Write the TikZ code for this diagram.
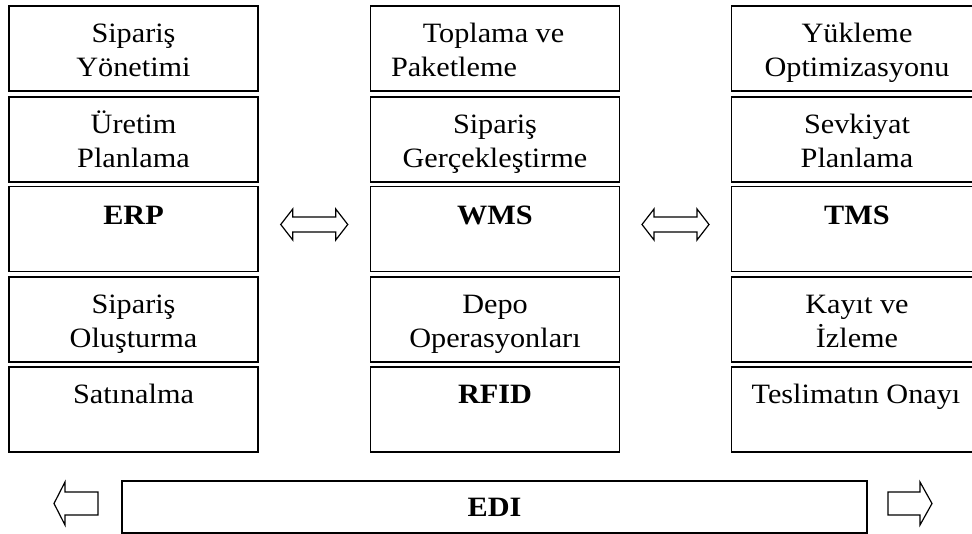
\documentclass[tikz,border=0pt]{standalone}
\usepackage{fontspec}
\setmainfont{Liberation Serif}[FakeStretch=1.08]
\usetikzlibrary{calc}

% block arrow pointing both ways: centre, half length, half height, half shaft, head length
\newcommand\twowayarrow[5]{%
  \draw[blockarrow] ($(#1)+(-#2,0)$) -- ++(#5,-#3) -- ++(0,#3-#4) -- ++(2*#2-2*#5,0)
    -- ++(0,-#3+#4) -- ++(#5,#3) -- ++(-#5,#3) -- ++(0,-#3+#4) -- ++(-2*#2+2*#5,0)
    -- ++(0,#3-#4) -- cycle;}
% single block arrow: tip, head base offset, tail offset (signed), half height, half shaft
\newcommand\onewayarrow[5]{%
  \draw[blockarrow] (#1) -- ++(#2,-#4) -- ++(0,#4-#5) -- ++(#3-#2,0) -- ++(0,2*#5)
    -- ++(#2-#3,0) -- ++(0,#4-#5) -- cycle;}

\begin{document}
\begin{tikzpicture}[x=1pt,y=-1pt]
\tikzset{
  cell/.style={draw, line width=1.6pt, minimum width=249pt, minimum height=85pt,
               inner sep=0pt, outer sep=0pt},
  word/.style={anchor=base, inner sep=0pt, outer sep=0pt,
               font=\fontsize{28}{34}\selectfont},
  blockarrow/.style={draw, line width=1.2pt, line join=miter},
  edibox/.style={draw, line width=1.1pt, minimum width=745pt, minimum height=52pt,
               inner sep=0pt, outer sep=0pt},
}
\path[use as bounding box, clip] (0,0) rectangle (972,534);

% ---------- ERP column ----------
\node[cell] (l1) at (133.5,48.5) {};
\node[word] (l1a) at (133.5,43) {Sipariş};
\node[word] (l1b) at (133.5,77) {Yönetimi};
\node[cell] (l2) at (133.5,139.5) {};
\node[word] (l2a) at (133.5,134) {Üretim};
\node[word] (l2b) at (133.5,168) {Planlama};
\node[cell] (erp) at (133.5,229) {};
\node[word] (erpt) at (133.5,225) {\bfseries ERP};
\node[cell] (l4) at (133.5,319.5) {};
\node[word] (l4a) at (133.5,314) {Sipariş};
\node[word] (l4b) at (133.5,348) {Oluşturma};
\node[cell] (l5) at (133.5,409.5) {};
\node[word] (l5a) at (133.5,404) {Satınalma};

% ---------- WMS column ----------
\node[cell] (m1) at (495,48.5) {};
\node[word] (m1a) at (493.5,43) {Toplama ve};
\node[word, anchor=base west] (m1b) at (391,77) {Paketleme};
\node[cell] (m2) at (495,139.5) {};
\node[word] (m2a) at (495,134) {Sipariş};
\node[word] (m2b) at (495,168) {Gerçekleştirme};
\node[cell] (wms) at (495,229) {};
\node[word] (wmst) at (495,225) {\bfseries WMS};
\node[cell] (m4) at (495,319.5) {};
\node[word] (m4a) at (495,314) {Depo};
\node[word] (m4b) at (495,348) {Operasyonları};
\node[cell] (m5) at (495,409.5) {};
\node[word] (m5a) at (495,404) {\bfseries RFID};

% ---------- TMS column ----------
\node[cell] (r1) at (856,48.5) {};
\node[word] (r1a) at (857,43) {Yükleme};
\node[word] (r1b) at (857,77) {Optimizasyonu};
\node[cell] (r2) at (856,139.5) {};
\node[word] (r2a) at (857,134) {Sevkiyat};
\node[word] (r2b) at (857,168) {Planlama};
\node[cell] (tms) at (856,229) {};
\node[word] (tmst) at (857,225) {\bfseries TMS};
\node[cell] (r4) at (856,319.5) {};
\node[word] (r4a) at (857,314) {Kayıt ve};
\node[word] (r4b) at (857,348) {İzleme};
\node[cell] (r5) at (856,409.5) {};
\node[word] (r5a) at (856,404) {Teslimatın Onayı};

% ---------- links between the systems ----------
\coordinate (ew) at ($(erp.east)!0.5!(wms.west)+(0,-4.5)$);
\coordinate (wt) at ($(wms.east)!0.5!(tms.west)+(0,-4.5)$);
\twowayarrow{ew}{33.5}{15.5}{7.5}{12}
\twowayarrow{wt}{33.5}{15.5}{7.5}{12}

% ---------- EDI bar ----------
\node[edibox] (edi) at (494.5,507) {};
\node[word] (edit) at (494.5,516) {\bfseries EDI};
\coordinate (ediL) at (54,503.5);
\coordinate (ediR) at (932,503.5);
\onewayarrow{ediL}{11}{44}{21.5}{11.5}
\onewayarrow{ediR}{-12}{-44}{21.5}{11.5}
\end{tikzpicture}
\end{document}
